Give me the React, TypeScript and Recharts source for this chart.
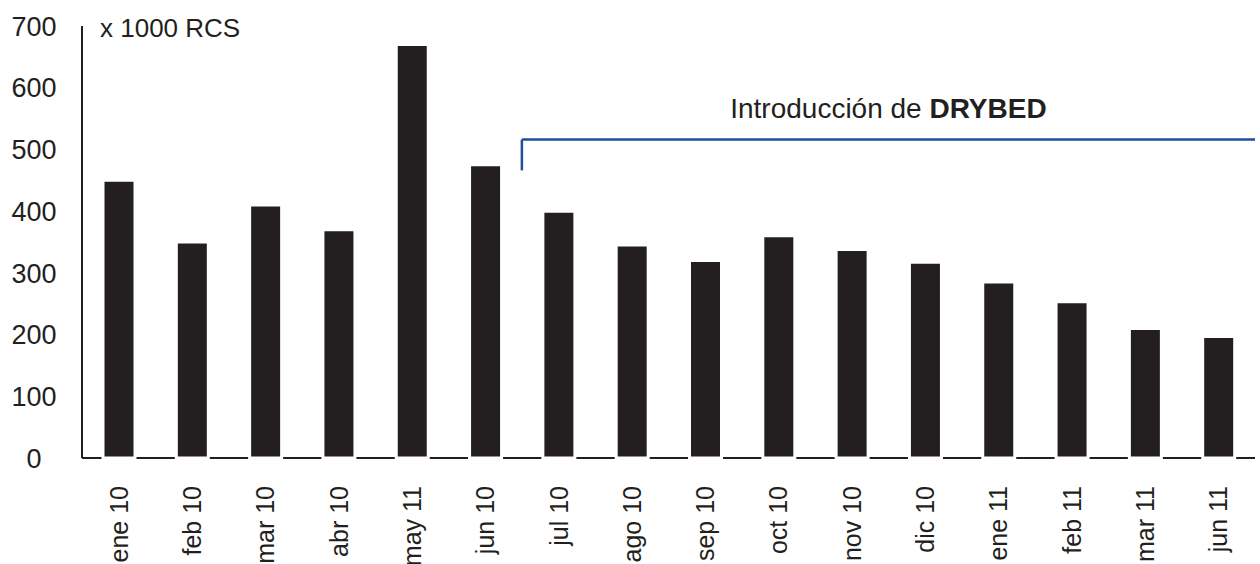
import { BarChart, Bar, XAxis, YAxis, ReferenceLine } from 'recharts'

if (typeof document !== 'undefined') document.body.style.margin = '0'

const months = [
  'ene 10', 'feb 10', 'mar 10', 'abr 10', 'may 11', 'jun 10', 'jul 10', 'ago 10',
  'sep 10', 'oct 10', 'nov 10', 'dic 10', 'ene 11', 'feb 11', 'mar 11', 'jun 11',
]
const rcs = [450, 350, 410, 370, 670, 475, 400, 345, 320, 360, 338, 317, 285, 253, 210, 197]
const yTicks = [0, 100, 200, 300, 400, 500, 600, 700]

// bracket for the DRYBED annotation: from the end of jun 10 to the end of jun 11
const bracketFrom = 'jun 10'
const bracketTo = 'jun 11'
const bracketTop = 516
const bracketFoot = 466

const data = months.map((m, i) => ({ month: m, value: rcs[i] }))

const INK = '#231f20'
const BLUE = '#1d4f9e'
const FONT = '"Liberation Sans", Arial, sans-serif'

function YTick(props: any) {
  const { x, y, payload } = props
  return (
    <text x={x - 48} y={y} dy="0.36em" textAnchor="middle" fontSize={27} fill={INK} fontFamily={FONT}>
      {payload.value}
    </text>
  )
}

function XTick(props: any) {
  const { x, y, payload } = props
  return (
    <text
      transform={`translate(${x},${y + 28}) rotate(-90)`}
      dy="0.36em"
      textAnchor="end"
      fontSize={25}
      fill={INK}
      fontFamily={FONT}
    >
      {payload.value}
    </text>
  )
}

function BracketLabel(props: any) {
  const vb = props.viewBox || {}
  const cx = vb.x + (vb.width || 0) / 2
  return (
    <text x={cx} y={vb.y - 22} textAnchor="middle" fontSize={28} fill={INK} fontFamily={FONT}>
      Introducción de <tspan fontWeight="bold">DRYBED</tspan>
    </text>
  )
}

export default function App() {
  return (
    <div style={{ position: 'relative', width: 1260, height: 564, background: '#fff', overflow: 'hidden' }}>
      <div
        style={{
          position: 'absolute',
          left: 100,
          top: 15,
          fontSize: 26,
          lineHeight: 1,
          fontFamily: FONT,
          color: INK,
        }}
      >
        x 1000 RCS
      </div>
      <BarChart width={1260} height={564} data={data} margin={{ top: 26, right: 5, left: 10, bottom: 105 }}>
        <XAxis
          dataKey="month"
          interval={0}
          tickSize={0}
          tickMargin={0}
          tick={<XTick />}
          axisLine={{ stroke: INK, strokeWidth: 2 }}
          tickLine={false}
          height={1}
          zIndex={0}
        />
        <YAxis
          domain={[0, 700]}
          ticks={yTicks}
          width={72}
          tickSize={0}
          tickMargin={0}
          tick={<YTick />}
          tickLine={false}
          axisLine={{ stroke: INK, strokeWidth: 2 }}
        />
        <Bar dataKey="value" fill={INK} stroke="#fff" strokeWidth={3} barSize={32} isAnimationActive={false} />
        <ReferenceLine
          segment={[
            { x: bracketFrom, y: bracketTop },
            { x: bracketTo, y: bracketTop },
          ]}
          position="end"
          stroke={BLUE}
          strokeWidth={2.5}
          ifOverflow="visible"
          label={<BracketLabel />}
        />
        <ReferenceLine
          segment={[
            { x: bracketFrom, y: bracketTop },
            { x: bracketFrom, y: bracketFoot },
          ]}
          position="end"
          stroke={BLUE}
          strokeWidth={2.5}
          ifOverflow="visible"
        />
      </BarChart>
    </div>
  )
}
